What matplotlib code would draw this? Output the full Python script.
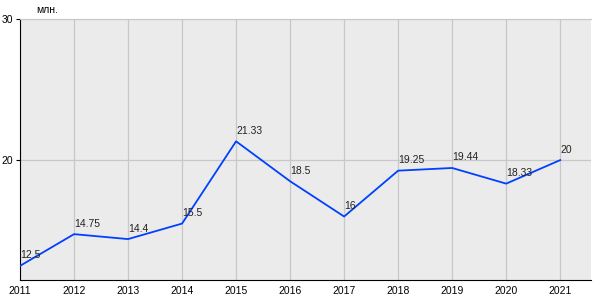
import matplotlib
matplotlib.use('Agg')
import matplotlib.pyplot as plt

# годы и значения
years = [2011, 2012, 2013, 2014, 2015, 2016, 2017, 2018, 2019, 2020, 2021]
values = [12.5, 14.75, 14.4, 15.5, 21.33, 18.5, 16, 19.25, 19.44, 18.33, 20]
labels = ['12.5', '14.75', '14.4', '15.5', '21.33', '18.5', '16', '19.25', '19.44', '18.33', '20']

plt.rcParams['font.family'] = ['Liberation Sans', 'DejaVu Sans']

fig = plt.figure(figsize=(6, 3), dpi=100)
ax = fig.add_axes([20 / 600, 20 / 300, 571 / 600, 261 / 300])
ax.set_facecolor('#ebebeb')

ax.plot(years, values, color='#0040ff', lw=1.3, zorder=3)
for x, y, t in zip(years, values, labels):
    ax.annotate(t, (x, y), xytext=(0, 4), textcoords='offset points',
                fontsize=7.5, color='#222222', ha='left', va='bottom', zorder=4)

ax.set_xlim(2011, 2021.57)
ax.set_ylim(11.5, 30)
ax.set_xticks(years)
ax.set_yticks([20, 30])
ax.tick_params(axis='both', labelsize=7.5, length=3, color='black', pad=2)
ax.tick_params(axis='x', length=0, pad=4)

ax.grid(True, color='#c8c8c8', lw=0.9)
ax.set_axisbelow(True)
ax.spines['right'].set_visible(False)
ax.spines['top'].set_color('#c8c8c8')
ax.spines['left'].set_color('black')
ax.spines['bottom'].set_color('black')

ax.text(0.028, 1.015, 'млн.', transform=ax.transAxes, fontsize=7.5, ha='left', va='bottom')

plt.savefig('out.png', dpi=100)
